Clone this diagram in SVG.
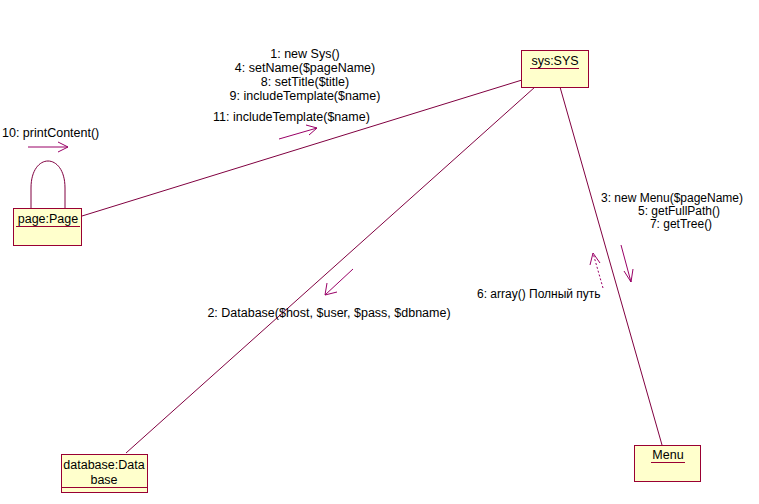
<svg xmlns="http://www.w3.org/2000/svg" width="759" height="504" viewBox="0 0 759 504">
<style>
.box{fill:#ffffcc;stroke:#990033;stroke-width:1}
.ln{fill:none;stroke:#800040;stroke-width:1}
.ar{fill:none;stroke:#990066;stroke-width:1}
.dash{stroke-dasharray:2,2}
text{font-family:"Liberation Sans",Arial,sans-serif;font-size:12.5px;fill:#000}
.sm{font-size:12px}
.ul{stroke:#990033;stroke-width:1}
</style>
<rect width="759" height="504" fill="#fff"/>
<g id="connectors">
<line class="ln" x1="82" y1="216" x2="522" y2="80"/>
<line class="ln" x1="535" y1="87" x2="126" y2="453"/>
<line class="ln" x1="560" y1="87" x2="662" y2="445"/>
<path class="ln" d="M31,209 L31,188 C31,152 65,152 65,188 L65,209"/>
</g>
<g id="messages">
<text x="2" y="137">10: printContent()</text>
<path class="ar" d="M28,147 L68,147 M58,142 L68,147 L58,152"/>
<text x="305" y="58" text-anchor="middle">1: new Sys()</text>
<text x="305" y="72" text-anchor="middle">4: setName($pageName)</text>
<text x="305" y="86" text-anchor="middle">8: setTitle($title)</text>
<text x="305" y="100" text-anchor="middle">9: includeTemplate($name)</text>
<text x="213" y="121">11: includeTemplate($name)</text>
<path class="ar" d="M279,139 L317,128 M306,125 L317,128 L309,135"/>
<text class="sm" x="672" y="202" text-anchor="middle">3: new Menu($pageName)</text>
<text class="sm" x="679" y="215" text-anchor="middle">5: getFullPath()</text>
<text class="sm" x="681" y="228" text-anchor="middle">7: getTree()</text>
<path class="ar" d="M621,245 L631,282 M624,271 L631,282 L633,269"/>
<path class="ar dash" d="M603,288 L593,253"/>
<path class="ar" d="M590,265 L593,253 L600,263"/>
<text class="sm" x="477" y="298">6: array() Полный путь</text>
<path class="ar" d="M353,269 L325,295 M327,283 L325,295 L337,292"/>
<text x="329" y="317" text-anchor="middle">2: Database($host, $user, $pass, $dbname)</text>
</g>
<g id="page">
<rect class="box" x="13.5" y="208.5" width="68" height="37"/>
<text x="48" y="223" text-anchor="middle">page:Page</text>
<line class="ul" x1="16" y1="226.5" x2="80" y2="226.5"/>
</g>
<g id="sys">
<rect class="box" x="521.5" y="50.5" width="67" height="37"/>
<text x="555" y="65" text-anchor="middle">sys:SYS</text>
<line class="ul" x1="530" y1="68.5" x2="579" y2="68.5"/>
</g>
<g id="database">
<rect class="box" x="61.5" y="454.5" width="86" height="38"/>
<text x="104" y="469" text-anchor="middle">database:Data</text>
<text x="104" y="484" text-anchor="middle">base</text>
<line class="ul" x1="61.5" y1="487.5" x2="147.5" y2="487.5"/>
</g>
<g id="menu">
<rect class="box" x="634.5" y="445.5" width="66" height="36"/>
<text x="668" y="459" text-anchor="middle">Menu</text>
<line class="ul" x1="651" y1="462.5" x2="685" y2="462.5"/>
</g>
</svg>
